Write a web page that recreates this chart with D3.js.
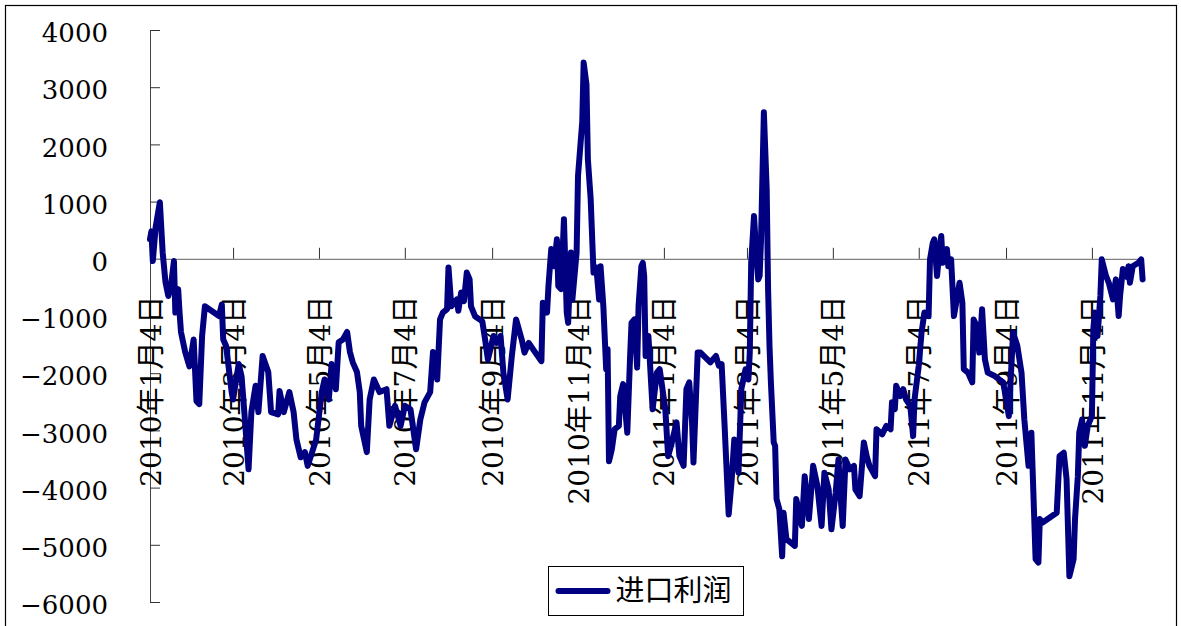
<!DOCTYPE html>
<html>
<head>
<meta charset="utf-8">
<script src="https://cdn.jsdelivr.net/npm/d3@7"></script>
<style>
  body { margin: 0; background: #fff; }
</style>
</head>
<body>
<div id="chart"></div>
<script>
const seriesName = "进口利润";

const yTicks = [4000, 3000, 2000, 1000, 0, -1000, -2000, -3000, -4000, -5000, -6000];

const xTickDates = [
    "2010-01-04", "2010-03-04", "2010-05-04", "2010-07-04", "2010-09-04", "2010-11-04",
    "2011-01-04", "2011-03-04", "2011-05-04", "2011-07-04", "2011-09-04", "2011-11-04"
];

const dates = [
    "2010-01-04", "2010-01-05", "2010-01-06", "2010-01-08", "2010-01-11", "2010-01-13", "2010-01-15", "2010-01-17", "2010-01-19", "2010-01-21",
    "2010-01-22", "2010-01-24", "2010-01-25", "2010-01-26", "2010-01-29", "2010-02-01", "2010-02-04", "2010-02-06", "2010-02-08", "2010-02-10",
    "2010-02-12", "2010-02-22", "2010-02-24", "2010-02-25", "2010-02-27", "2010-03-03", "2010-03-04", "2010-03-08", "2010-03-10", "2010-03-12",
    "2010-03-15", "2010-03-17", "2010-03-20", "2010-03-22", "2010-03-25", "2010-03-29", "2010-03-31", "2010-04-05", "2010-04-06", "2010-04-09",
    "2010-04-13", "2010-04-16", "2010-04-18", "2010-04-21", "2010-04-24", "2010-04-26", "2010-05-02", "2010-05-06", "2010-05-08", "2010-05-11",
    "2010-05-13", "2010-05-16", "2010-05-18", "2010-05-21", "2010-05-24", "2010-05-26", "2010-05-28", "2010-05-31", "2010-06-02", "2010-06-03",
    "2010-06-07", "2010-06-09", "2010-06-12", "2010-06-16", "2010-06-21", "2010-06-23", "2010-06-27", "2010-07-01", "2010-07-04", "2010-07-08",
    "2010-07-12", "2010-07-15", "2010-07-18", "2010-07-22", "2010-07-24", "2010-07-27", "2010-07-29", "2010-07-31", "2010-08-03", "2010-08-04",
    "2010-08-06", "2010-08-10", "2010-08-11", "2010-08-13", "2010-08-15", "2010-08-17", "2010-08-19", "2010-08-20", "2010-08-23", "2010-08-28",
    "2010-08-30", "2010-09-01", "2010-09-05", "2010-09-07", "2010-09-10", "2010-09-12", "2010-09-15", "2010-09-18", "2010-09-21", "2010-09-25",
    "2010-09-27", "2010-09-30", "2010-10-03", "2010-10-09", "2010-10-10", "2010-10-13", "2010-10-14", "2010-10-16", "2010-10-18", "2010-10-20",
    "2010-10-21", "2010-10-23", "2010-10-25", "2010-10-27", "2010-10-28", "2010-10-30", "2010-10-31", "2010-11-03", "2010-11-04", "2010-11-07",
    "2010-11-08", "2010-11-10", "2010-11-11", "2010-11-13", "2010-11-15", "2010-11-17", "2010-11-19", "2010-11-20", "2010-11-22", "2010-11-24",
    "2010-11-25", "2010-11-26", "2010-11-28", "2010-11-30", "2010-12-03", "2010-12-04", "2010-12-06", "2010-12-09", "2010-12-11", "2010-12-12",
    "2010-12-14", "2010-12-16", "2010-12-17", "2010-12-19", "2010-12-20", "2010-12-21", "2010-12-22", "2010-12-24", "2010-12-27", "2010-12-30",
    "2011-01-01", "2011-01-05", "2011-01-07", "2011-01-09", "2011-01-13", "2011-01-15", "2011-01-18", "2011-01-20", "2011-01-22", "2011-01-24",
    "2011-01-25", "2011-01-28", "2011-01-30", "2011-02-06", "2011-02-10", "2011-02-12", "2011-02-14", "2011-02-16", "2011-02-19", "2011-02-21",
    "2011-02-23", "2011-02-26", "2011-02-28", "2011-03-03", "2011-03-05", "2011-03-06", "2011-03-07", "2011-03-09", "2011-03-11", "2011-03-12",
    "2011-03-13", "2011-03-14", "2011-03-16", "2011-03-18", "2011-03-19", "2011-03-20", "2011-03-21", "2011-03-23", "2011-03-24", "2011-03-25",
    "2011-03-27", "2011-03-29", "2011-03-30", "2011-04-01", "2011-04-07", "2011-04-08", "2011-04-12", "2011-04-14", "2011-04-17", "2011-04-20",
    "2011-04-23", "2011-04-26", "2011-04-28", "2011-05-01", "2011-05-03", "2011-05-06", "2011-05-08", "2011-05-09", "2011-05-11", "2011-05-13",
    "2011-05-16", "2011-05-19", "2011-05-20", "2011-05-23", "2011-05-26", "2011-05-28", "2011-05-30", "2011-06-03", "2011-06-04", "2011-06-08",
    "2011-06-11", "2011-06-14", "2011-06-15", "2011-06-17", "2011-06-18", "2011-06-21", "2011-06-23", "2011-06-25", "2011-06-28", "2011-06-30",
    "2011-07-01", "2011-07-04", "2011-07-06", "2011-07-08", "2011-07-11", "2011-07-12", "2011-07-14", "2011-07-15", "2011-07-17", "2011-07-19",
    "2011-07-20", "2011-07-21", "2011-07-24", "2011-07-25", "2011-07-27", "2011-07-29", "2011-07-31", "2011-08-02", "2011-08-04", "2011-08-05",
    "2011-08-08", "2011-08-11", "2011-08-12", "2011-08-14", "2011-08-16", "2011-08-18", "2011-08-20", "2011-08-22", "2011-08-27", "2011-09-02",
    "2011-09-06", "2011-09-09", "2011-09-12", "2011-09-15", "2011-09-17", "2011-09-20", "2011-09-22", "2011-09-25", "2011-09-27", "2011-09-28",
    "2011-09-30", "2011-10-10", "2011-10-12", "2011-10-15", "2011-10-17", "2011-10-19", "2011-10-22", "2011-10-23", "2011-10-25", "2011-10-26",
    "2011-10-28", "2011-10-30", "2011-11-01", "2011-11-04", "2011-11-05", "2011-11-06", "2011-11-08", "2011-11-10", "2011-11-11", "2011-11-14",
    "2011-11-16", "2011-11-19", "2011-11-21", "2011-11-23", "2011-11-24", "2011-11-26", "2011-11-29", "2011-11-30", "2011-12-01", "2011-12-03",
    "2011-12-07", "2011-12-09", "2011-12-10"
];

const values = [
    340, 480, -40, 550, 990, 110, -410, -650, -450, -40,
    -940, -530, -940, -1280, -1630, -1880, -1410, -2490, -2540, -1350,
    -830, -1000, -800, -1410, -1520, -2330, -2460, -1840, -2050, -2680,
    -3680, -2680, -2220, -2680, -1700, -1980, -2680, -2720, -2310, -2680,
    -2330, -2680, -3160, -3470, -3380, -3620, -3160, -2330, -2110, -2460,
    -1840, -2280, -1460, -1410, -1280, -1630, -1810, -1980, -2330, -2920,
    -3380, -2460, -2110, -2330, -2280, -2920, -2570, -2920, -2570, -2630,
    -3330, -2810, -2510, -2330, -1630, -2110, -1060, -940, -880, -150,
    -830, -710, -910, -590, -740, -240, -360, -830, -1010, -1090,
    -1410, -1760, -1350, -1470, -1350, -1990, -2460, -1700, -1060, -1410,
    -1640, -1470, -1580, -1790, -770, -940, -480, 170, -130, 340,
    -480, -530, 690, -940, -1120, 110, -710, 110, 1450, 2390,
    3430, 3050, 1740, 1040, -240, -150, -710, -130, -830, -1930,
    -1580, -3540, -3330, -2980, -2920, -2400, -2190, -3040, -1700, -1120,
    -1060, -1900, -830, -130, -70, -300, -1700, -1350, -2630, -1990,
    -1930, -2630, -3450, -3270, -2860, -3450, -3620, -2280, -2160, -2860,
    -3560, -1640, -1640, -1810, -1700, -1870, -1840, -2860, -4470, -3910,
    -3160, -3740, -2280, -1930, -2110, -1640, -70, 750, -70, -360,
    -300, 340, 2560, 1220, -530, -1520, -2160, -3210, -3270, -4200,
    -4380, -5200, -4440, -4900, -5020, -4200, -4670, -3800, -4550, -3620,
    -3970, -4670, -3740, -4030, -4730, -4090, -3510, -3970, -4670, -3510,
    -3680, -3620, -4030, -4150, -3210, -3450, -3620, -3800, -2980, -3070,
    -2920, -2980, -2510, -2630, -2220, -2400, -2280, -2460, -2570, -3100,
    -2460, -1870, -1290, -940, -1000, -10, 280, 340, -300, 220,
    400, -70, 170, -130, -10, -1000, -710, -420, -770, -1930,
    -1990, -2160, -1060, -1170, -1640, -880, -1760, -1990, -2050, -2160,
    -2750, -1290, -1520, -1990, -2810, -3620, -3040, -5250, -5310, -4550,
    -4610, -4440, -3450, -3390, -3850, -5550, -5250, -4550, -3800, -3040,
    -2810, -3270, -2920, -2750, -1230, -940, -1350, -650, -10, -300,
    -420, -710, -360, -1000, -650, -180, -320, -130, -420, -130,
    -70, -10, -360
];

const width = 1181;
const height = 626;
const plot = { left: 150, right: 1142.6, top: 30, bottom: 602 };
const serifFont = "DejaVu Serif, Noto Sans CJK SC, serif";

const parseDate = d3.timeParse("%Y-%m-%d");
const fmtDate = d3.timeFormat("%Y年%-m月%-d日");

const data = dates.map((d, i) => ({ date: parseDate(d), value: values[i] }));
const tickDates = xTickDates.map(parseDate);

const x = d3.scaleTime()
    .domain([parseDate(dates[0]), parseDate(dates[dates.length - 1])])
    .range([plot.left, plot.right]);

const y = d3.scaleLinear()
    .domain([-6000, 4000])
    .range([plot.bottom, plot.top]);

const svg = d3.select("#chart")
    .append("svg")
    .attr("width", width)
    .attr("height", height)
    .style("display", "block");

// outer frame
svg.append("rect")
    .attr("x", 5.5)
    .attr("y", 5.5)
    .attr("width", 1171)
    .attr("height", 640)
    .attr("fill", "none")
    .attr("stroke", "#000")
    .attr("stroke-width", 1.2);

// y axis, ticks point into the plot
const yAxis = svg.append("g")
    .attr("transform", `translate(${plot.left},0)`)
    .call(d3.axisLeft(y)
        .tickValues(yTicks)
        .tickSize(-10)
        .tickSizeOuter(0)
        .tickPadding(42)
        .tickFormat(d => d3.format("d")(d).replace("-", "\u2212")));

yAxis.attr("font-family", serifFont).attr("font-size", 26);
yAxis.select(".domain").attr("stroke", "#444");
yAxis.selectAll(".tick line").attr("stroke", "#333");
yAxis.selectAll(".tick text")
    .attr("dy", "0.45em")
    .attr("fill", "#000");

// x axis on the zero line, labels rotated below it
const xAxis = svg.append("g")
    .attr("transform", `translate(0,${y(0)})`)
    .call(d3.axisBottom(x)
        .tickValues(tickDates)
        .tickSize(-11)
        .tickSizeOuter(0)
        .tickFormat(fmtDate));

xAxis.attr("font-family", serifFont).attr("font-size", 28);
xAxis.select(".domain").attr("stroke", "#808080").attr("stroke-width", 1.3);
xAxis.selectAll(".tick line").attr("stroke", "#333");
xAxis.selectAll(".tick text")
    .attr("x", 0)
    .attr("y", 0)
    .attr("dy", "0.36em")
    .attr("transform", "translate(0,37) rotate(-90)")
    .attr("text-anchor", "end")
    .attr("fill", "#000");

// the series
const line = d3.line()
    .x(d => x(d.date))
    .y(d => y(d.value));

svg.append("path")
    .datum(data)
    .attr("d", line)
    .attr("fill", "none")
    .attr("stroke", "#000080")
    .attr("stroke-width", 6)
    .attr("stroke-linejoin", "round")
    .attr("stroke-linecap", "round");

// legend
const legend = svg.append("g").attr("transform", "translate(548.5,566.5)");

legend.append("rect")
    .attr("width", 195)
    .attr("height", 49)
    .attr("fill", "#fff")
    .attr("stroke", "#000")
    .attr("stroke-width", 1);

legend.append("line")
    .attr("x1", 10)
    .attr("x2", 59)
    .attr("y1", 24.5)
    .attr("y2", 24.5)
    .attr("stroke", "#000080")
    .attr("stroke-width", 6)
    .attr("stroke-linecap", "round");

legend.append("text")
    .attr("x", 67)
    .attr("y", 24.5)
    .attr("dy", "0.36em")
    .attr("font-family", "Noto Sans CJK SC, sans-serif")
    .attr("font-size", 29)
    .text(seriesName);
</script>
</body>
</html>
